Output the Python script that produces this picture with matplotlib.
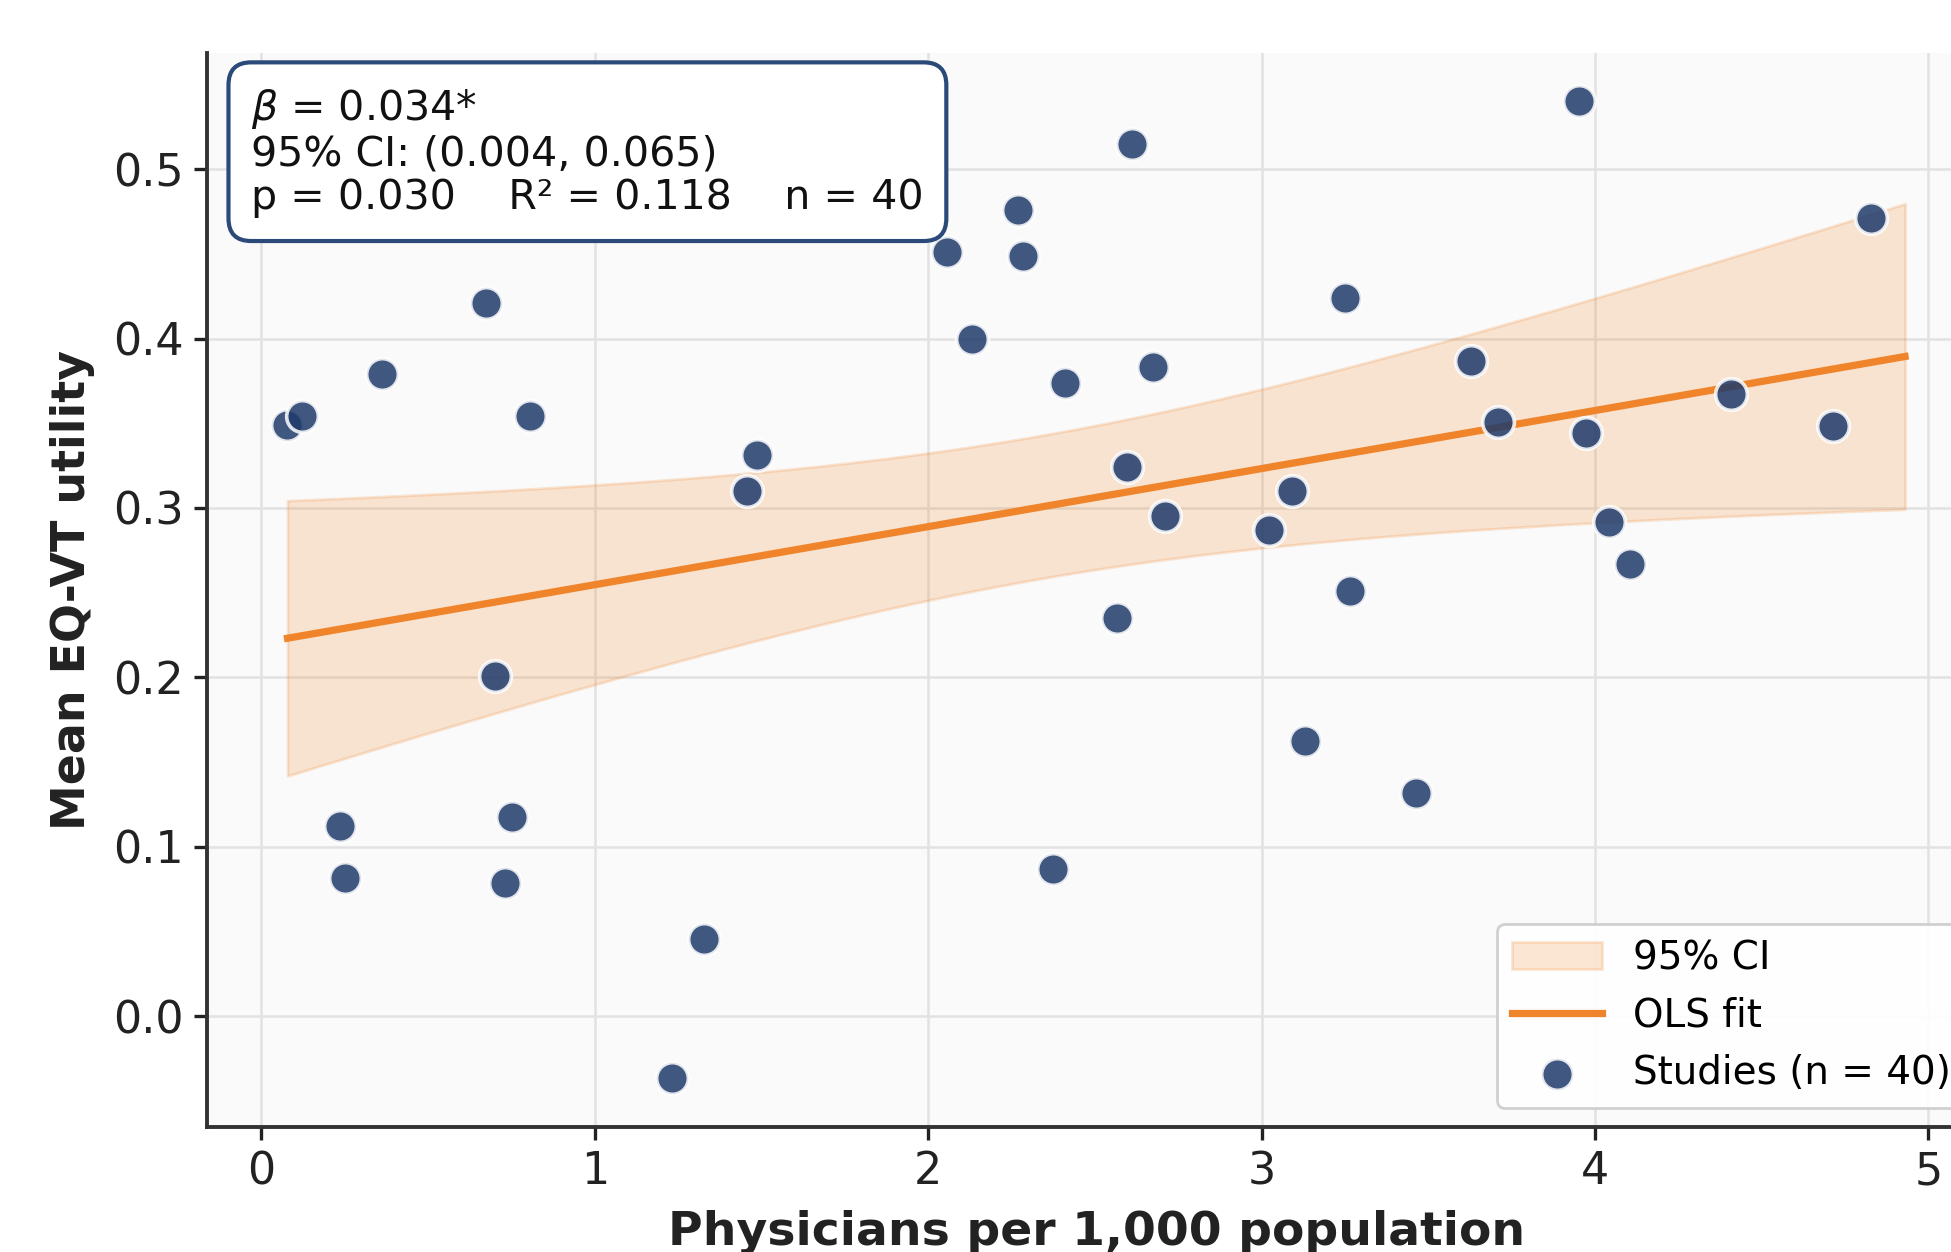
"""Scatter of mean EQ-VT utility against physician density with an OLS fit."""

import matplotlib

matplotlib.use("Agg")
import matplotlib.pyplot as plt
import numpy as np

# study-level values
physicians = [
    0.078, 0.123, 0.362, 0.672, 0.806, 0.701, 0.235, 0.250, 0.750, 0.731,
    1.328, 1.231, 1.455, 1.485, 2.056, 2.131, 2.269, 2.284, 2.410, 2.612,
    2.675, 2.597, 2.709, 2.567, 2.373, 3.022, 3.090, 3.250, 3.265, 3.131,
    3.463, 3.627, 3.709, 3.951, 3.974, 4.041, 4.104, 4.407, 4.713, 4.828,
]
utility = [
    0.349, 0.354, 0.379, 0.421, 0.354, 0.201, 0.1125, 0.0816, 0.1176, 0.0787,
    0.0456, -0.0368, 0.310, 0.331, 0.451, 0.400, 0.476, 0.449, 0.374, 0.515,
    0.383, 0.324, 0.295, 0.235, 0.0868, 0.287, 0.310, 0.424, 0.251, 0.1625,
    0.1316, 0.387, 0.351, 0.540, 0.344, 0.292, 0.267, 0.367, 0.3485, 0.471,
]
fit_x_max = 4.93
t_crit = 2.024  # t(0.975, df=38)

stats_text = (
    "$\\beta$ = 0.034*\n"
    "95% CI: (0.004, 0.065)\n"
    "p = 0.030    R\u00b2 = 0.118    n = 40"
)

NAVY = "#1f3a6b"
ORANGE = "#f0842a"


def main():
    x = np.asarray(physicians)
    y = np.asarray(utility)
    n = len(x)

    slope, intercept = np.polyfit(x, y, 1)
    resid = y - (intercept + slope * x)
    s = np.sqrt(np.sum(resid**2) / (n - 2))
    sxx = np.sum((x - x.mean()) ** 2)
    grid = np.linspace(x.min(), fit_x_max, 200)
    fit = intercept + slope * grid
    half = t_crit * s * np.sqrt(1 / n + (grid - x.mean()) ** 2 / sxx)

    fig = plt.figure(figsize=(9.755, 6.26), dpi=200)
    ax = fig.add_axes([0.1059, 0.0996, 0.912, 0.8584])
    ax.set_facecolor("#fafafa")

    ax.fill_between(
        grid, fit - half, fit + half,
        facecolor=ORANGE, alpha=0.2, edgecolor=ORANGE, linewidth=1.0,
        label="95% CI", zorder=2,
    )
    ax.plot(grid, fit, color=ORANGE, linewidth=2.6, label="OLS fit", zorder=3)
    ax.scatter(
        x, y, s=130, color=NAVY, alpha=0.85, edgecolors="white",
        linewidths=1.3, label=f"Studies (n = {n})", zorder=4,
    )

    ax.grid(True, color="#e2e2e2", linewidth=0.9, zorder=0)
    ax.set_axisbelow(True)
    for side in ("top", "right"):
        ax.spines[side].set_visible(False)
    for side in ("left", "bottom"):
        ax.spines[side].set_color("#333333")
        ax.spines[side].set_linewidth(1.4)
    ax.tick_params(labelsize=16, colors="#222222", width=1.2, length=4.7)
    ax.set_xticks([0, 1, 2, 3, 4, 5])
    ax.set_yticks([0.0, 0.1, 0.2, 0.3, 0.4, 0.5])

    ax.set_xlabel("Physicians per 1,000 population", fontsize=17,
                  fontweight="bold", color="#222222", labelpad=6)
    ax.set_ylabel("Mean EQ-VT utility", fontsize=16.5, fontweight="bold",
                  color="#222222", labelpad=6.5)

    ax.text(
        0.025, 0.968, stats_text, transform=ax.transAxes, fontsize=14.8,
        va="top", ha="left", color="#111111", linespacing=1.12, zorder=6,
        bbox=dict(boxstyle="round,pad=0.55", facecolor="white",
                  edgecolor="#2b4a7a", linewidth=1.5),
    )

    ax.legend(loc="lower right", fontsize=14, frameon=True, framealpha=0.9,
              edgecolor="#cccccc", handlelength=2.3)

    fig.savefig("out.png", dpi=200, facecolor="white")


if __name__ == "__main__":
    main()
